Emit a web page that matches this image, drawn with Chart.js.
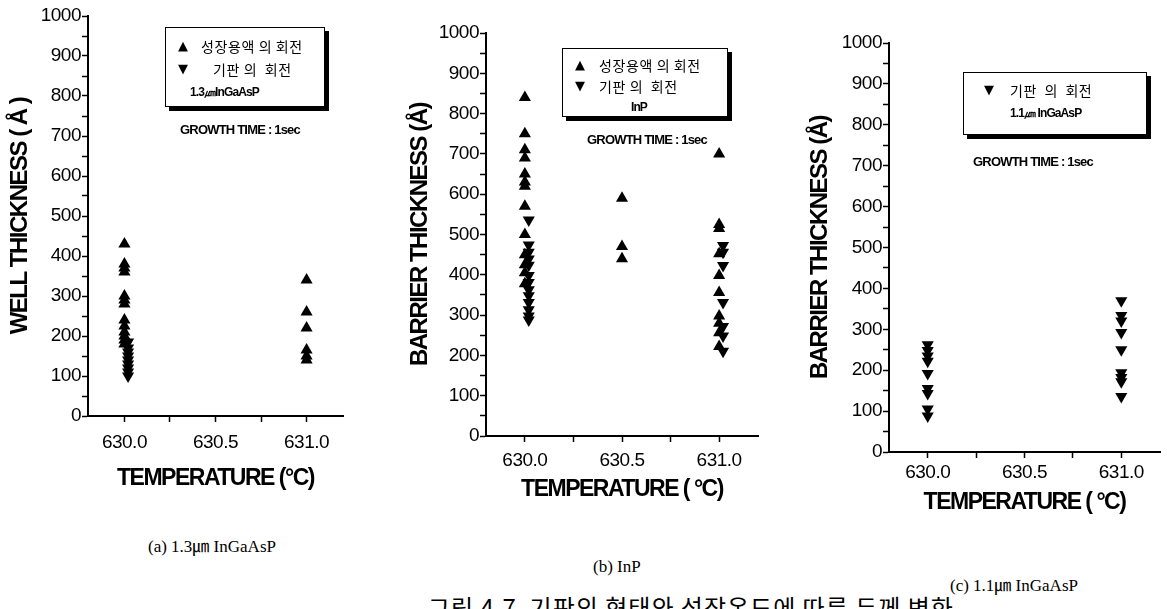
<!DOCTYPE html>
<html>
<head>
<meta charset="utf-8">
<script src="https://cdn.jsdelivr.net/npm/chart.js@4.4.1/dist/chart.umd.min.js"></script>
<style>
    html, body { margin: 0; padding: 0; background: #fff; }
    body { width: 1167px; height: 609px; position: relative; overflow: hidden; }
    .panel { position: absolute; top: 0; }
    .box {
        position: absolute; border: 1.5px solid #000; background: #fff;
        box-shadow: 4px 4px 0 #000; font-family: "Noto Sans CJK KR", sans-serif;
    }
    .row { position: absolute; white-space: nowrap; font-size: 14px; line-height: 16px; letter-spacing: 0.6px; }
    .sym { position: absolute; font-family: "DejaVu Sans", sans-serif; font-size: 13px; }
    .small { font-family: "Liberation Sans", sans-serif; font-weight: bold; font-size: 12px; letter-spacing: -0.9px; }
    .growth { position: absolute; white-space: nowrap; font-family: "Liberation Sans", sans-serif; font-weight: bold; font-size: 13px; letter-spacing: -0.8px; }
    .cap { position: absolute; white-space: nowrap; font-family: "Liberation Serif", "DejaVu Serif", "Noto Sans CJK KR", serif; font-size: 17px; }
    .fig { position: absolute; white-space: nowrap; font-family: "Noto Sans CJK KR", serif; font-size: 24px; top: 589px; left: 428px; letter-spacing: 1px; }
</style>
</head>
<body>

<div class="panel" style="left:0;width:350px;height:496px;"><canvas id="chart-a"></canvas></div>
<div class="panel" style="left:400px;width:365px;height:507px;"><canvas id="chart-b"></canvas></div>
<div class="panel" style="left:800px;width:367px;height:520px;"><canvas id="chart-c"></canvas></div>

<!-- panel (a) legend -->
<div class="box" style="left:165px;top:27px;width:158px;height:78px;">
    <span class="sym" style="left:12px;top:10px;">▲</span><span class="row" style="left:35px;top:10px;">성장용액 의 회전</span>
    <span class="sym" style="left:12px;top:33px;">▼</span><span class="row" style="left:47px;top:33px;">기판 의&nbsp; 회전</span>
    <span class="row small" style="left:24px;top:56px;">1.3㎛InGaAsP</span>
</div>
<div class="growth" style="left:180px;top:122px;">GROWTH TIME : 1sec</div>

<!-- panel (b) legend -->
<div class="box" style="left:562px;top:48px;width:164px;height:67px;">
    <span class="sym" style="left:12px;top:8px;">▲</span><span class="row" style="left:36px;top:8px;">성장용액 의 회전</span>
    <span class="sym" style="left:12px;top:29px;">▼</span><span class="row" style="left:36px;top:29px;">기판 의&nbsp; 회전</span>
    <span class="row small" style="left:68px;top:50px;">InP</span>
</div>
<div class="growth" style="left:587px;top:132px;">GROWTH TIME : 1sec</div>

<!-- panel (c) legend -->
<div class="box" style="left:963px;top:72px;width:182px;height:61px;">
    <span class="sym" style="left:20px;top:9px;">▼</span><span class="row" style="left:46px;top:9px;">기판&nbsp; 의&nbsp; 회전</span>
    <span class="row small" style="left:46px;top:32px;">1.1㎛ InGaAsP</span>
</div>
<div class="growth" style="left:973px;top:154px;">GROWTH TIME : 1sec</div>

<div class="cap" style="left:148px;top:532px;">(a) 1.3㎛ InGaAsP</div>
<div class="cap" style="left:593px;top:557px;">(b) InP</div>
<div class="cap" style="left:950px;top:571px;">(c) 1.1㎛ InGaAsP</div>
<div class="fig">그림 4.7&nbsp; 기판의 형태와 성장온도에 따른 두께 변화</div>

<script>
// tick positions (minor ticks carry no label)
var yTicks = [0, 50, 100, 150, 200, 250, 300, 350, 400, 450, 500, 550, 600, 650, 700, 750, 800, 850, 900, 950, 1000];
var xTicks = [630.0, 630.25, 630.5, 630.75, 631.0];
var xLabels = ['630.0', '', '630.5', '', '631.0'];

// (a) 1.3um InGaAsP, well thickness
var aUpTemp = [630.0, 631.0];
var aUp630 = [430, 380, 370, 360, 300, 290, 280, 240, 225, 210, 200, 190, 180];
var aUp631 = [340, 260, 220, 165, 150, 140];
var aDownTemp = 630.02;
var aDown630 = [185, 170, 160, 150, 140, 130, 120, 110, 100];

// (b) InP, barrier thickness
var bUpTemp = [630.0, 630.5, 631.0];
var bUp630 = [840, 750, 710, 690, 650, 630, 620, 570, 500, 450, 425, 405, 378];
var bUp6305 = [590, 470, 440];
var bUp631 = [700, 525, 515, 452, 398, 356, 298, 280, 256, 222];
var bDownTemp = [630.02, 631.02];
var bDown630 = [536, 474, 456, 439, 424, 398, 381, 363, 348, 331, 313, 298, 288];
var bDown631 = [473, 456, 423, 331, 272, 248, 210];

// (c) 1.1um InGaAsP, barrier thickness (substrate rotation only)
var cDownTemp = [630.0, 631.0];
var cDown630 = [262, 248, 235, 222, 192, 155, 143, 105, 88];
var cDown631 = [370, 334, 320, 292, 250, 194, 182, 172, 136];

var axisFont = 'Liberation Sans, Arial, sans-serif';

// no narrow font installed: squeeze the axis text a little
var tightText = {
    id: 'tightText',
    beforeDraw: function (chart) {
        var ctx = chart.ctx;
        if (ctx._tight) return;
        var orig = ctx.fillText;
        ctx.fillText = function (t, x, y, w) {
            this.letterSpacing = /bold/.test(this.font) ? '-1.5px' : '-0.5px';
            return w === undefined ? orig.call(this, t, x, y) : orig.call(this, t, x, y, w);
        };
        ctx._tight = true;
    }
};

function pts(temp, values) {
    return values.map(function (v) { return { x: temp, y: v }; });
}

function series(data, down) {
    return {
        data: data,
        pointStyle: 'triangle',
        pointRotation: down ? 180 : 0,
        radius: 7,
        backgroundColor: '#000',
        borderColor: '#000',
        borderWidth: 0,
        showLine: false
    };
}

function makeChart(id, datasets, opt) {
    var ctx = document.getElementById(id).getContext('2d');
    return new Chart(ctx, {
        type: 'scatter',
        data: { datasets: datasets },
        plugins: [tightText],
        options: {
            responsive: true,
            maintainAspectRatio: false,
            animation: false,
            layout: { padding: { top: opt.top, right: opt.right, left: 0, bottom: 0 } },
            plugins: { legend: { display: false }, tooltip: { enabled: false } },
            scales: {
                x: {
                    type: 'linear', min: 629.8, max: 631.2,
                    afterBuildTicks: function (s) { s.ticks = xTicks.map(function (v) { return { value: v }; }); },
                    afterFit: function (s) { s.height = opt.xh; },
                    border: { color: '#000', width: 2 },
                    grid: { drawOnChartArea: false, tickLength: 6, tickColor: '#000', tickWidth: 1.5 },
                    ticks: {
                        autoSkip: false, maxRotation: 0, color: '#000', padding: opt.xpad,
                        font: { family: axisFont, size: 19 },
                        callback: function (v, i) { return xLabels[i]; }
                    },
                    title: {
                        display: true, text: opt.xTitle, color: '#000',
                        padding: { top: 4, bottom: 4 },
                        font: { family: axisFont, size: 23, weight: 'bold' }
                    }
                },
                y: {
                    type: 'linear', min: 0, max: 1000,
                    afterBuildTicks: function (s) { s.ticks = yTicks.map(function (v) { return { value: v }; }); },
                    afterFit: function (s) { s.width = opt.yw; },
                    border: { color: '#000', width: 2 },
                    grid: { drawOnChartArea: false, tickLength: 6, tickColor: '#000', tickWidth: 1.5 },
                    ticks: {
                        autoSkip: false, color: '#000', padding: 1,
                        font: { family: axisFont, size: 19 },
                        callback: function (v) { return v % 100 === 0 ? String(v) : ''; }
                    },
                    title: {
                        display: true, text: opt.yTitle, color: '#000',
                        padding: { top: 6, bottom: 0 },
                        font: { family: axisFont, size: 24, weight: 'bold' }
                    }
                }
            }
        }
    });
}

makeChart('chart-a', [
    series(pts(aUpTemp[0], aUp630).concat(pts(aUpTemp[1], aUp631)), false),
    series(pts(aDownTemp, aDown630), true)
], { top: 16, right: 7, xh: 80, yw: 88, xpad: 9, xTitle: 'TEMPERATURE (°C)', yTitle: 'WELL THICKNESS ( Å )' });

makeChart('chart-b', [
    series(pts(bUpTemp[0], bUp630).concat(pts(bUpTemp[1], bUp6305), pts(bUpTemp[2], bUp631)), false),
    series(pts(bDownTemp[0], bDown630).concat(pts(bDownTemp[1], bDown631)), true)
], { top: 33, right: 7, xh: 71, yw: 86, xpad: 7, xTitle: 'TEMPERATURE ( °C)', yTitle: 'BARRIER THICKNESS (Å)' });

makeChart('chart-c', [
    series(pts(cDownTemp[0], cDown630).concat(pts(cDownTemp[1], cDown631)), true)
], { top: 43, right: 2, xh: 68, yw: 89, xpad: 3, xTitle: 'TEMPERATURE ( °C)', yTitle: 'BARRIER THICKNESS (Å)' });
</script>
</body>
</html>
